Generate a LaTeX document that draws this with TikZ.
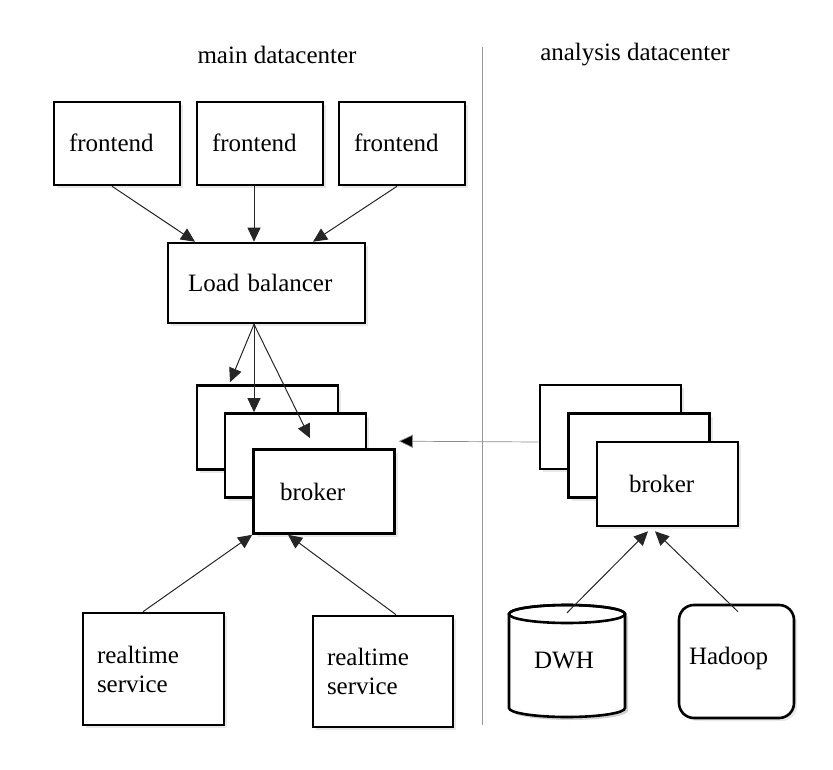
\documentclass[tikz,border=0pt]{standalone}
\usepackage{fontspec}
\setmainfont{Liberation Serif}
\usetikzlibrary{arrows.meta,shadows,calc}
\begin{document}
\begin{tikzpicture}[x=1pt,y=-1pt,
  lbl/.style={font=\fontsize{25}{29}\selectfont},
  box/.style={draw=black, line width=2.6pt, fill=white, inner ysep=0pt,
    align=left, font=\fontsize{25}{29}\selectfont,
    drop shadow={opacity=0.18, shadow xshift=3pt, shadow yshift=-3pt}},
  fe/.style={box, text width=96pt, inner xsep=15pt, minimum height=83pt},
  stackbox/.style={box, minimum width=141pt, minimum height=84pt, inner xsep=0pt},
  conn/.style={draw=black!85, line width=1pt, -{Triangle[length=14pt,width=13pt]}},
  faint/.style={draw=black!45, line width=0.7pt, -{Triangle[length=14pt,width=13pt,fill=black]}}
]
\useasboundingbox (0,0) rectangle (833,770);

% titles and divider
\node[lbl] (t1) at (277,55) {main datacenter};
\node[lbl] (t2) at (635,55) {analysis datacenter};
\draw[black!40, line width=0.6pt] (482,47) -- (482,725);

% frontends and load balancer
\node[fe] (fe1) at (117,143.5) {\raisebox{2pt}{frontend}};
\node[fe] (fe2) at (260,143.5) {\raisebox{2pt}{frontend}};
\node[fe] (fe3) at (402,143.5) {\raisebox{2pt}{frontend}};
\node[box, text width=157pt, inner xsep=20pt, minimum height=80pt] (lb) at (266.5,283) {Load balancer};

% main broker stack
\node[stackbox] (b1) at (267.5,427.5) {};
\node[stackbox] (b2) at (295.5,455.5) {};
\node[stackbox, text width=88pt, inner xsep=26pt] (b3) at (324,491.5) {broker};

% realtime services
\node[box, text width=113pt, inner xsep=14pt, minimum height=112pt] (rt1) at (153.5,669) {realtime\\service};
\node[box, text width=112pt, inner xsep=14pt, minimum height=111pt] (rt2) at (383,671.5) {realtime\\service};

% analysis broker stack
\node[stackbox] (rb1) at (610.5,427) {};
\node[stackbox] (rb2) at (639,455.5) {};
\node[stackbox, text width=77pt, inner xsep=32pt] (rb3) at (667.5,484) {broker};

% DWH cylinder
\fill[black, opacity=0.18] (512,617) -- (512,711) arc[start angle=180, end angle=360, x radius=58pt, y radius=9pt] -- (628,617) arc[start angle=0, end angle=180, x radius=58pt, y radius=9pt] -- cycle;
\filldraw[fill=white, draw=black, line width=2.6pt] (509,614) -- (509,708) arc[start angle=180, end angle=360, x radius=58pt, y radius=9pt] -- (625,614) arc[start angle=0, end angle=180, x radius=58pt, y radius=9pt] -- cycle;
\draw[line width=2.6pt] (567,614) ellipse[x radius=58pt, y radius=9pt];
\node[lbl, minimum width=116pt, minimum height=112pt, inner sep=0pt] (dwh) at (567,661) {\hspace*{-6pt}DWH};

% Hadoop
\node[box, rounded corners=15pt, text width=95pt, inner xsep=10pt, minimum height=113pt] (hd) at (736.5,661.5) {\raisebox{11pt}{Hadoop}};

% connectors
\draw[conn] ([xshift=-5pt]fe1.south) -- ([xshift=-71.5pt]lb.north);
\draw[conn] ([xshift=-6pt]fe2.south) -- ([xshift=-12.5pt]lb.north);
\draw[conn] ([xshift=-5pt]fe3.south) -- ([xshift=46.5pt]lb.north);

\draw[conn] ([xshift=-12.5pt]lb.south) -- ([xshift=-37.5pt,yshift=2pt]b1.north);
\draw[conn] ([xshift=-12.5pt]lb.south) -- ([xshift=-41.5pt]b2.north);
\draw[conn] ([xshift=-12.5pt]lb.south) -- ([xshift=-14pt,yshift=10pt]b3.north);

\draw[conn] ([xshift=-10.5pt]rt1.north) -- (b3.south west);
\draw[conn] ([xshift=13pt]rt2.north) -- ([xshift=-36pt]b3.south);

\draw[faint] ([yshift=-15pt]rb1.west) -- ([xshift=3pt,yshift=7pt]b3.north east);

\draw[conn] ([yshift=-8pt]dwh.north) -- ([xshift=-19.5pt,yshift=-4pt]rb3.south);
\draw[conn] ([xshift=1.5pt,yshift=-8pt]hd.north) -- ([xshift=-12.5pt,yshift=-4pt]rb3.south);
\end{tikzpicture}
\end{document}
